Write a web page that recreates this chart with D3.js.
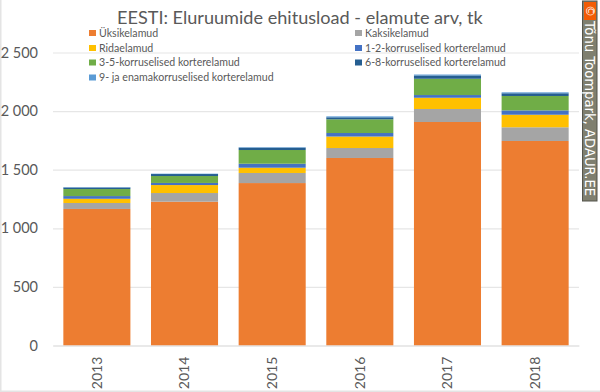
<!DOCTYPE html>
<html>
<head>
<meta charset="utf-8">
<script src="https://cdn.jsdelivr.net/npm/d3@7"></script>
<style>
  html, body { margin: 0; padding: 0; background: #fff; }
  svg { display: block; font-family: Lato, "Open Sans", sans-serif; }
</style>
</head>
<body>
<svg id="chart"></svg>
<script>
const years = ["2013", "2014", "2015", "2016", "2017", "2018"];
const seriesNames = [
  "Üksikelamud",
  "Kaksikelamud",
  "Ridaelamud",
  "1-2-korruselised korterelamud",
  "3-5-korruselised korterelamud",
  "6-8-korruselised korterelamud",
  "9- ja enamakorruselised korterelamud",
];
const seriesColors = ["#ed7d31", "#a5a5a5", "#ffc000", "#4472c4", "#70ad47", "#255e91", "#5b9bd5"];

const yksikelamud = [1165, 1227, 1386, 1600, 1907, 1745];
const kaksikelamud = [51, 74, 86, 85, 111, 117];
const ridaelamud = [36, 68, 45, 98, 96, 107];
const korrus12 = [23, 18, 34, 30, 23, 37];
const korrus35 = [60, 59, 117, 117, 139, 123];
const korrus68 = [13, 17, 20, 17, 28, 23];
const korrus9 = [3, 3, 4, 8, 8, 8];

const seriesValues = [yksikelamud, kaksikelamud, ridaelamud, korrus12, korrus35, korrus68, korrus9];
const yTicks = [0, 500, 1000, 1500, 2000, 2500];

const totalWidth = 600,
  totalHeight = 392;
const margin = { top: 52.5, right: 21, bottom: 46.5, left: 53 },
  width = totalWidth - margin.left - margin.right,
  height = totalHeight - margin.top - margin.bottom;

const root = d3.select("#chart").attr("width", totalWidth).attr("height", totalHeight);

// outer frame of the picture
root.append("rect").attr("x", 0).attr("y", 0).attr("width", 1.5).attr("height", totalHeight).attr("fill", "#e4e4e4");
root.append("rect").attr("x", 0).attr("y", 390.5).attr("width", totalWidth).attr("height", 1.5).attr("fill", "#e4e4e4");

const svg = root.append("g").attr("transform", `translate(${margin.left},${margin.top})`);

const x = d3.scaleBand().domain(years).range([0, width]).paddingInner(0.235).paddingOuter(0.118);
const y = d3.scaleLinear().domain([0, 2500]).range([height, 0]);

const formatTick = (d) => d3.format(",")(d).replace(",", " ");

// gridlines and y labels
const yAxis = svg.append("g").call(d3.axisLeft(y).tickValues(yTicks).tickSize(-width).tickFormat(formatTick));
yAxis.select(".domain").remove();
yAxis.selectAll("line").attr("stroke", "#e6e6e6").attr("stroke-width", 1.2);
yAxis.selectAll("text")
  .attr("x", -15)
  .attr("fill", "#595959")
  .style("font-size", "14.5px")
  .style("font-family", "Lato, sans-serif");

// stacked bars
const rows = years.map((year, i) => {
  const row = { year };
  seriesNames.forEach((name, s) => (row[name] = seriesValues[s][i]));
  return row;
});
const stacked = d3.stack().keys(seriesNames)(rows);
const color = d3.scaleOrdinal().domain(seriesNames).range(seriesColors);

svg.selectAll(".series")
  .data(stacked)
  .enter()
  .append("g")
  .attr("class", "series")
  .attr("fill", (d) => color(d.key))
  .selectAll("rect")
  .data((d) => d)
  .enter()
  .append("rect")
  .attr("x", (d) => x(d.data.year))
  .attr("width", x.bandwidth())
  .attr("y", (d) => y(d[1]))
  .attr("height", (d) => y(d[0]) - y(d[1]));

// x labels, rotated
const xAxis = svg.append("g")
  .attr("transform", `translate(0,${height})`)
  .call(d3.axisBottom(x).tickSize(0));
xAxis.select(".domain").attr("stroke", "#e0e0e0").attr("stroke-width", 1.2);
xAxis.selectAll("text")
  .attr("transform", "rotate(-90)")
  .attr("x", -27.5)
  .attr("y", 0)
  .attr("dy", "0.35em")
  .attr("fill", "#595959")
  .style("text-anchor", "middle")
  .style("font-size", "14px")
  .style("font-family", "Lato, sans-serif");

// title
root.append("text")
  .attr("x", 117)
  .attr("y", 24)
  .attr("fill", "#595959")
  .style("font-size", "18.1px")
  .text("EESTI: Eluruumide ehitusload - elamute arv, tk");

// legend in two columns
const legendCols = [89, 355];
const legendRows = [33, 48, 62.5, 77.5];
seriesNames.forEach((name, i) => {
  const lx = legendCols[i % 2],
    ly = legendRows[Math.floor(i / 2)];
  root.append("rect")
    .attr("x", lx)
    .attr("y", ly - 3)
    .attr("width", 7)
    .attr("height", 6)
    .attr("fill", seriesColors[i]);
  root.append("text")
    .attr("x", lx + 10)
    .attr("y", ly)
    .attr("dy", "0.35em")
    .attr("fill", "#595959")
    .style("font-size", "10.6px")
    .text(name);
});

// copyright strip on the right
root.append("rect")
  .attr("x", 582.5)
  .attr("y", 1)
  .attr("width", 14.5)
  .attr("height", 200)
  .attr("fill", "#7f7f6f")
  .attr("stroke", "#55554c")
  .attr("stroke-width", 1);
root.append("rect").attr("x", 584).attr("y", 2).attr("width", 12).attr("height", 18).attr("fill", "#f25c05");
root.append("text")
  .attr("transform", "translate(590,11) rotate(90)")
  .attr("text-anchor", "middle")
  .attr("dy", "0.35em")
  .attr("fill", "#fff")
  .style("font-size", "12px")
  .style("font-family", "DejaVu Sans, sans-serif")
  .text("©");
root.append("text")
  .attr("transform", "translate(590,21) rotate(90)")
  .attr("dy", "0.35em")
  .attr("fill", "#fff")
  .style("font-size", "13.2px")
  .style("font-family", "DejaVu Sans, sans-serif")
  .text("Tõnu Toompark, ADAUR.EE");
</script>
</body>
</html>
